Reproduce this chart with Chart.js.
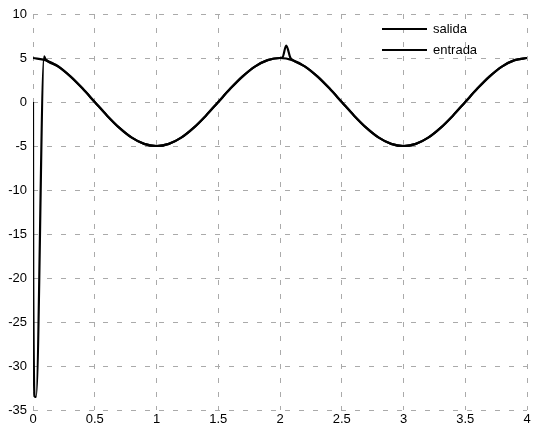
<!DOCTYPE html>
<html><head><meta charset="utf-8">
<script src="https://cdn.jsdelivr.net/npm/chart.js@4.4.1/dist/chart.umd.min.js"></script>
<style>html,body{margin:0;padding:0;background:#fff}#w{width:540px;height:430px}</style>
</head><body><div id="w"><canvas id="c" width="540" height="430"></canvas></div>
<script>
const tEntrada = [0,0.1,0.2,0.3,0.4,0.5,0.6,0.7,0.8,0.9,1,1.1,1.2,1.3,1.4,1.5,1.6,1.7,1.8,1.9,2,2.1,2.2,2.3,2.4,2.5,2.6,2.7,2.8,2.9,3,3.1,3.2,3.3,3.4,3.5,3.6,3.7,3.8,3.9,4];
const entrada = [5,4.76,4.05,2.94,1.55,0,-1.55,-2.94,-4.05,-4.76,-5,-4.76,-4.05,-2.94,-1.55,0,1.55,2.94,4.05,4.76,5,4.76,4.05,2.94,1.55,0,-1.55,-2.94,-4.05,-4.76,-5,-4.76,-4.05,-2.94,-1.55,0,1.55,2.94,4.05,4.76,5];
const tSalida = [0,0.002,0.015,0.025,0.09,0.1,0.2,0.3,0.4,0.5,0.6,0.7,0.8,0.9,1,1.1,1.2,1.3,1.4,1.5,1.6,1.7,1.8,1.9,2,2.02,2.05,2.085,2.1,2.2,2.3,2.4,2.5,2.6,2.7,2.8,2.9,3,3.1,3.2,3.3,3.4,3.5,3.6,3.7,3.8,3.9,4];
const salida = [0,-20,-33.5,-33.5,5.2,4.9,4.1,2.95,1.55,0,-1.55,-2.94,-4.05,-4.76,-5,-4.76,-4.05,-2.94,-1.55,0,1.55,2.94,4.05,4.76,5,5.05,6.4,5.0,4.8,4.05,2.94,1.55,0,-1.55,-2.94,-4.05,-4.76,-5,-4.76,-4.05,-2.94,-1.55,0,1.55,2.94,4.05,4.76,5];
const xTicks = [0,0.5,1,1.5,2,2.5,3,3.5,4];
const yTicks = [10,5,0,-5,-10,-15,-20,-25,-30,-35];
const seriesNames = ['salida','entrada'];

const FONT = '"Liberation Sans", Arial, sans-serif';

const legendPlugin = {
  id: 'customLegend',
  afterDraw(chart) {
    const ctx = chart.ctx;
    ctx.save();
    ctx.strokeStyle = '#000';
    ctx.lineWidth = 2.2;
    ctx.fillStyle = '#000';
    ctx.font = '13px ' + FONT;
    ctx.textBaseline = 'middle';
    seriesNames.forEach((n, i) => {
      const y = 29 + i * 21;
      ctx.beginPath(); ctx.moveTo(382, y); ctx.lineTo(427, y); ctx.stroke();
      ctx.fillText(n, 433, y);
    });
    ctx.restore();
  }
};

new Chart(document.getElementById('c'), {
  type: 'line',
  data: {
    datasets: [
      { label: seriesNames[1], data: tEntrada.map((t,i)=>({x:t,y:entrada[i]})), borderColor:'#000', borderWidth:2.2, pointRadius:0, cubicInterpolationMode:'monotone', fill:false },
      { label: seriesNames[0], data: tSalida.map((t,i)=>({x:t,y:salida[i]})), borderColor:'#000', borderWidth:2.2, pointRadius:0, cubicInterpolationMode:'monotone', fill:false }
    ]
  },
  options: {
    responsive:false, animation:false, devicePixelRatio:1,
    layout:{padding:{top:14,right:13,left:0,bottom:0}},
    plugins:{legend:{display:false}, tooltip:{enabled:false}},
    scales:{
      x:{type:'linear', min:0, max:4,
        afterBuildTicks(s){ s.ticks = xTicks.map(v=>({value:v})); },
        afterFit(s){ s.height = 20; },
        ticks:{color:'#000', font:{family:FONT,size:13}, padding:2, maxRotation:0, callback:v=>String(v)},
        grid:{color:'#aaa', drawTicks:false, lineWidth:1},
        border:{display:false, dash:[5,9]}
      },
      y:{min:-35, max:10,
        afterBuildTicks(s){ s.ticks = yTicks.map(v=>({value:v})); },
        afterFit(s){ s.width = 33; },
        ticks:{color:'#000', font:{family:FONT,size:13}, padding:6, callback:v=>String(v)},
        grid:{color:'#aaa', drawTicks:false, lineWidth:1},
        border:{display:false, dash:[5,9]}
      }
    }
  },
  plugins:[legendPlugin]
});
</script>
</body></html>
